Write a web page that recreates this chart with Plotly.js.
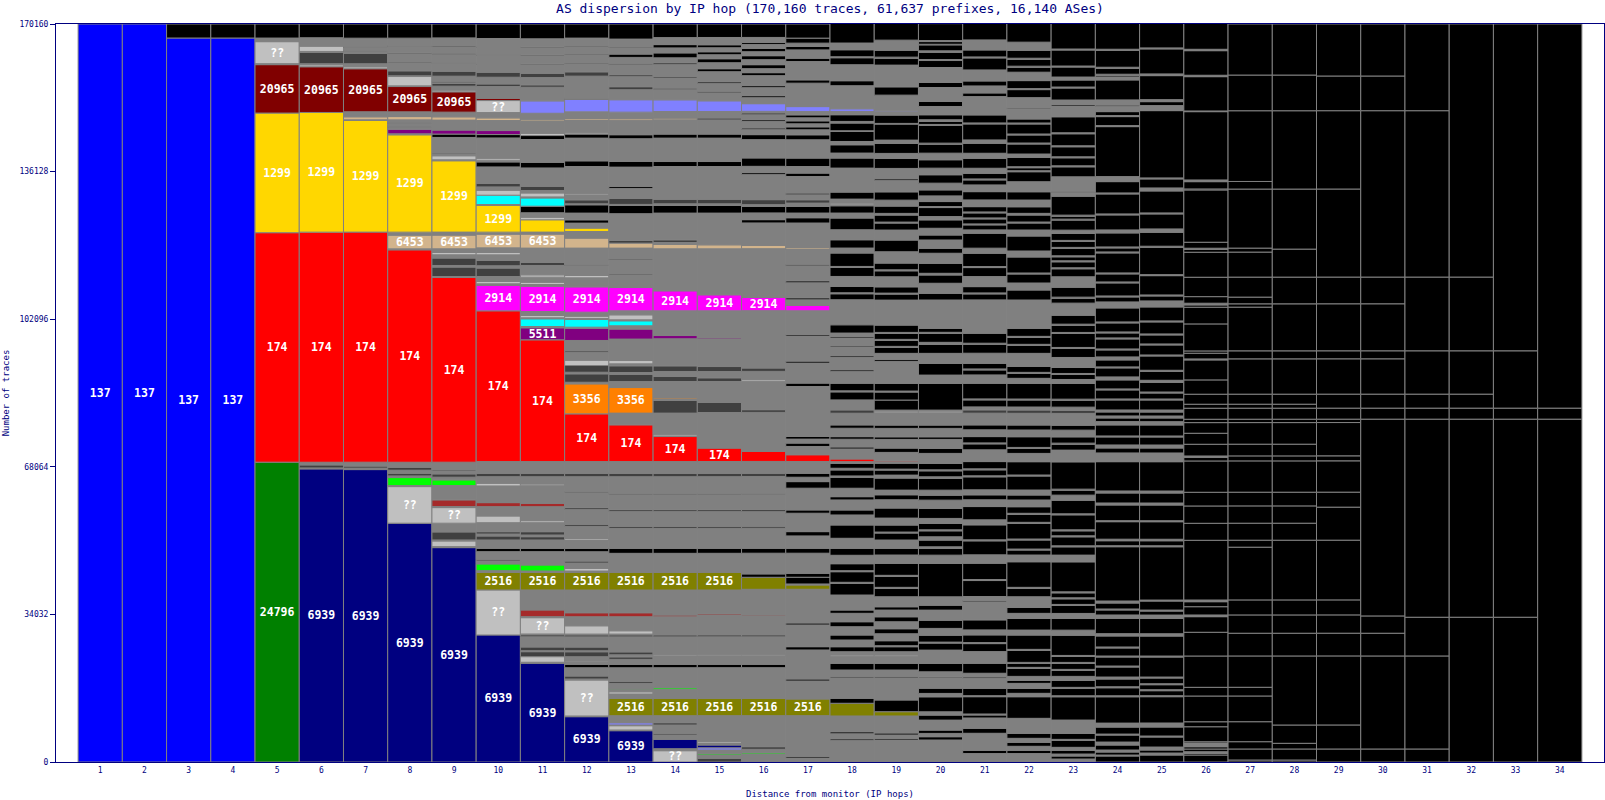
<!DOCTYPE html>
<html><head><meta charset="utf-8">
<script src="https://cdn.plot.ly/plotly-3.0.1.min.js"></script>
<style>html,body{margin:0;padding:0;background:#fff;}#chart{width:1605px;height:800px;}</style>
</head><body><div id="chart"></div>
<script>
// ---- data: per hop, segments bottom -> top: [AS key, traces, show label]
const hopLabels = ["1","2","3","4","5","6","7","8","9","10","11","12","13","14","15","16","17","18","19","20","21","22","23","24","25","26","27","28","29","30","31","32","33","34"];
const yTickValues = [0, 34032, 68064, 102096, 136128, 170160];
const totalTraces = 170160;

const hop1 = [["137",170160,1]];
const hop2 = [["137",170160,1]];
const hop3 = [["137",166930,1],["k",3230]];
const hop4 = [["137",166930,1],["k",3230]];
const hop5 = [["24796",69130,1],["174",52910,1],["1299",27590,1],["20965",11160,1],["g",230],["??",5070,1],["g",830],["k",3240]];
const hop6 = [["6939",67580,1],["g",230],["dg",690],["g",620],["174",53050,1],["1299",27590,1],["20965",10540,1],["??",460],["g",230],["dg",2610],["g",230],["??",1220],["g",1940],["k",3170]];
const hop7 = [["6939",67420,1],["g",350],["dg",460],["g",900],["174",53050,1],["1299",25740,1],["g",160],["6453",690],["g",1150],["20965",9920,1],["??",460],["g",690],["dg",2380],["g",460],["k",230],["g",690],["k",230],["g",1910],["k",3270]];
const hop8 = [["6939",55060,1],["??",8440,1],["g",230],["lime",1850],["g",390],["dg",620],["g",690],["dg",690],["g",1150],["174",48970,1],["g",230],["6453",3160,1],["g",690],["1299",22440,1],["g",230],["5511",1080],["g",460],["dg",230],["g",690],["dg",230],["g",530],["6453",760],["g",1080],["20965",5840,1],["g",160],["??",2150],["g",160],["dg",1150],["g",1780],["k",230],["g",1910],["k",230],["g",1450],["k",230],["g",1710],["k",3260]];
const hop9 = [["6939",49430,1],["g",230],["??",1310],["g",230],["dg",1850],["g",2010],["??",3600,1],["g",230],["brown",1550],["g",3300],["lime",1310],["g",620],["dg",760],["g",690],["k",230],["g",1780],["174",42580,1],["g",230],["dg",2170],["g",370],["dg",1710],["g",760],["??",530],["g",850],["6453",3160,1],["g",690],["1299",16450,1],["g",230],["??",920],["g",460],["dg",300],["g",3460],["k",780],["5511",920],["g",690],["??",160],["g",1450],["6453",760],["g",1080],["20965",4680,1],["??",390],["g",920],["dg",620],["g",140],["dg",390],["g",1150],["dg",1150],["g",1780],["k",230],["g",1910],["k",230],["g",1450],["k",230],["g",1850],["k",3200]];
const hop10 = [["6939",29290,1],["??",10380,1],["2516",4080,1],["g",370],["lime",1550],["g",690],["dg",390],["g",1750],["k",780],["g",1910],["dg",920],["g",460],["dg",530],["g",2080],["??",1550],["g",2150],["brown",920],["g",3850],["??",620],["g",1520],["dg",780],["g",2700],["174",34760,1],["2914",5840,1],["g",390],["??",530],["g",1150],["dg",1940],["g",530],["dg",1220],["g",1310],["??",530],["g",1080],["6453",3160,1],["g",460],["1299",6140,1],["g",230],["cyan",2150],["??",1150],["g",760],["dg",780],["g",3830],["k",1150],["g",390],["??",460],["g",4680],["k",780],["5511",920],["g",2310],["6453",620],["g",1220],["??",2770,1],["20965",530],["g",2700],["dg",600],["g",1550],["dg",1150],["g",1780],["k",230],["g",1850],["k",230],["g",1610],["k",230],["g",1850],["k",3340]];
const hop11 = [["6939",22770,1],["g",230],["??",1290],["dg",1150],["g",230],["dg",850],["g",2380],["k",390],["g",230],["??",3760,1],["g",230],["brown",1550],["g",4610],["2516",4080,1],["g",300],["lime",1380],["g",3070],["k",780],["g",1910],["dg",760],["g",390],["dg",760],["g",2080],["??",460],["g",3230],["brown",780],["g",4060],["??",390],["g",1680],["dg",780],["g",2710],["174",28070,1],["5511",2770,1],["g",300],["cyan",1780],["g",230],["??",530],["g",920],["2914",5840,1],["g",390],["??",530],["g",1150],["??",550],["g",2150],["dg",690],["g",3320],["6453",3230,1],["g",460],["1299",2840],["??",600],["g",1010],["k",1520],["cyan",1910],["g",230],["??",920],["g",550],["dg",990],["g",4220],["k",1310],["g",5240],["k",920],["??",530],["g",2700],["6453",390],["g",1520],["slate",2860],["g",3140],["dg",550],["g",1680],["dg",990],["g",1940],["k",230],["g",1850],["k",230],["g",1610],["k",230],["g",1850],["k",3420]];
const hop12 = [["6939",10450,1],["g",160],["??",8300,1],["g",230],["dg",690],["g",1910],["k",780],["g",530],["??",230],["g",990],["dg",1150],["g",230],["dg",850],["g",2380],["k",390],["g",230],["??",1910],["g",2080],["brown",920],["g",5240],["2516",4080,1],["g",300],["??",620],["g",1220],["dg",460],["g",2150],["k",780],["g",1910],["??",390],["g",2770],["dg",460],["g",3460],["k",350],["g",3460],["dg",350],["g",3370],["dg",780],["g",2710],["174",11000,1],["3356",6920,1],["g",370],["dg",1940],["g",370],["dg",1550],["??",1220],["g",1850],["dg",350],["g",2350],["5511",2770],["g",300],["cyan",1780],["g",230],["??",530],["g",920],["2914",5840,1],["g",2080],["??",550],["g",2310],["k",230],["g",3760],["6453",2310],["g",1520],["1299",780],["g",1150],["k",760],["g",1550],["k",1910],["g",230],["dg",920],["g",1150],["??",350],["g",6180],["k",1310],["g",5240],["k",920],["??",300],["g",2930],["6453",390],["g",1520],["slate",2860],["k",230],["g",5140],["dg",990],["g",1780],["k",230],["g",1850],["k",230],["g",1610],["k",230],["g",1850],["k",3250]];
const hop13 = [["6939",7220,1],["g",160],["??",990],["g",160],["slate",530],["g",1610],["2516",4010,1],["g",990],["??",530],["g",550],["lime",230],["g",1150],["dg",460],["g",3140],["k",780],["g",1150],["dg",580],["g",460],["dg",690],["g",3490],["k",390],["g",230],["??",760],["g",3230],["brown",920],["g",5240],["2516",4080,1],["g",4380],["k",1150],["g",4610],["dg",460],["g",3460],["k",350],["g",3460],["dg",350],["g",3830],["dg",780],["g",2710],["174",8470,1],["g",2700],["3356",5900,1],["g",1380],["dg",1710],["g",370],["dg",1550],["g",460],["??",760],["g",4940],["5511",2310],["g",760],["cyan",1150],["g",230],["??",1150],["g",920],["2914",5370,1],["g",2770],["dg",350],["g",3230],["k",230],["g",2510],["6453",1150],["dg",620],["g",6160],["k",1910],["g",230],["dg",1380],["g",2310],["k",460],["g",4450],["k",1310],["g",5240],["k",920],["g",3300],["6453",390],["g",1520],["slate",2860],["g",2310],["dg",690],["g",2310],["dg",460],["g",2310],["k",300],["g",1380],["k",760],["g",1380],["k",230],["g",1850],["k",3480]];
const hop14 = [["??",2610,1],["g",460],["6939",2170],["g",990],["dg",390],["g",1910],["dg",530],["g",1610],["2516",4010,1],["g",2080],["lime",370],["g",4610],["k",780],["g",1980],["??",320],["g",4060],["k",390],["g",4220],["brown",390],["g",5770],["2516",4080,1],["g",4380],["k",1150],["g",4610],["dg",460],["g",3460],["k",350],["g",3460],["dg",350],["g",3830],["dg",780],["g",2710],["174",5770,1],["??",390],["g",5010],["dg",2910],["g",390],["3356",300],["g",3690],["dg",1150],["g",1150],["dg",1310],["g",6230],["5511",760],["g",5700],["2914",4610,1],["g",9690],["6453",990],["g",460],["dg",620],["g",6160],["k",1750],["g",390],["dg",1080],["g",7520],["k",1150],["g",5400],["k",920],["g",3300],["6453",390],["g",1520],["slate",2700],["g",2310],["dg",390],["g",2310],["dg",390],["g",2770],["k",350],["g",1150],["k",1150],["g",1150],["k",760],["g",1610],["k",3140]];
const hop15 = [["dg",850],["g",760],["lime",300],["g",850],["slate",530],["6939",620],["g",460],["??",390],["g",5920],["2516",4010,1],["g",7060],["k",780],["g",1980],["??",320],["g",4060],["k",390],["g",4610],["brown",300],["g",5470],["2516",4080,1],["g",4380],["k",1150],["g",4610],["dg",460],["g",3460],["k",350],["g",3460],["dg",350],["g",3830],["dg",780],["g",2710],["174",3090,1],["g",8210],["dg",2310],["g",4840],["dg",850],["g",1450],["dg",1150],["g",6390],["5511",300],["g",6160],["2914",3690,1],["g",10610],["6453",920],["g",7310],["k",1750],["g",390],["dg",1080],["g",7520],["k",1150],["g",5400],["k",920],["g",3300],["k",390],["g",1520],["slate",2470],["g",1850],["k",350],["g",1850],["k",350],["g",2310],["k",690],["g",1380],["k",920],["g",920],["k",690],["g",920],["k",690],["g",1680],["k",3110]];
const hop16 = [["g",1850],["lime",300],["g",780],["dg",600],["g",7150],["2516",4010,1],["g",7060],["k",780],["g",1980],["??",320],["g",4060],["k",390],["g",4380],["brown",230],["g",5930],["2516",2770],["k",780],["g",4770],["k",1150],["g",4610],["dg",460],["g",3460],["k",350],["g",3460],["dg",350],["g",3830],["dg",780],["g",2710],["174",2310],["g",9000],["dg",620],["g",6530],["??",390],["g",1910],["dg",780],["g",13220],["2914",3070,1],["g",11230],["6453",760],["g",5170],["k",760],["g",1550],["k",1520],["g",390],["dg",1150],["g",5770],["k",460],["g",1450],["k",1940],["g",4220],["k",1150],["g",1150],["k",390],["g",1520],["k",390],["g",1150],["k",390],["g",370],["slate",1780],["g",1380],["k",460],["g",1850],["k",460],["g",2310],["k",690],["g",920],["k",920],["g",1150],["k",920],["g",920],["k",760],["g",920],["k",460],["g",1150],["k",3100]];
const hop17 = [["g",920],["k",350],["g",9410],["2516",3850,1],["g",4150],["k",460],["g",6690],["k",760],["g",5010],["k",460],["g",7770],["2516",990],["g",230],["k",1550],["k",920],["g",4620],["k",1150],["g",2840],["k",990],["g",4240],["k",760],["g",5010],["k",1520],["g",1010],["k",920],["g",2710],["174",1550],["g",1910],["k",780],["g",920],["k",600],["g",11530],["k",780],["g",4610],["k",460],["g",5770],["k",350],["g",5490],["2914",1220],["g",1310],["k",460],["g",3460],["k",460],["g",3460],["k",350],["g",3510],["6453",370],["g",5630],["k",1220],["g",1080],["k",1520],["g",780],["dg",760],["g",1150],["k",390],["g",3830],["k",780],["g",1520],["k",1940],["g",4220],["k",1150],["g",1150],["k",690],["g",690],["k",690],["g",690],["k",690],["g",760],["slate",1150],["g",5400],["k",760],["g",4220],["k",780],["g",1910],["k",780],["g",780],["k",1150],["k",3260]];
const hop18 = [["g",5010],["k",350],["g",1150],["k",460],["g",3640],["2516",2930],["k",1150],["g",4680],["dg",390],["g",1450],["k",1550],["g",1610],["??",300],["g",760],["k",1150],["g",1550],["k",1150],["g",1910],["k",1150],["g",1940],["k",760],["g",3460],["k",2700],["g",230],["k",2450],["g",230],["k",1610],["g",1940],["k",1610],["g",2310],["k",3070],["g",2310],["k",1150],["g",2310],["k",760],["g",1940],["k",2540],["g",300],["k",1380],["g",390],["k",1150],["g",370],["174",620],["g",2310],["k",460],["g",1780],["k",600],["g",1940],["k",760],["g",2700],["dg",760],["g",2310],["k",1850],["g",230],["k",1780],["g",2770],["k",350],["g",2770],["dg",480],["g",1850],["k",350],["g",1850],["k",350],["g",780],["k",1910],["dg",230],["g",5540],["k",1380],["g",230],["k",1450],["g",2310],["k",2080],["g",230],["k",3090],["g",1150],["k",1910],["g",2310],["k",2700],["g",1150],["k",1680],["g",230],["??",390],["g",920],["k",1610],["g",5540],["k",2310],["g",1150],["k",1910],["g",760],["k",2310],["g",160],["k",1780],["g",370],["k",1550],["g",760],["slate",620],["g",5310],["k",1150],["g",3690],["k",1610],["g",230],["k",1610],["g",1550],["k",4600]];
const hop19 = [["g",5070],["k",350],["g",810],["k",460],["g",3920],["2516",990],["k",2700],["g",5070],["dg",390],["g",1450],["k",1550],["g",1610],["??",300],["g",760],["k",1150],["g",230],["k",1150],["g",1610],["k",1150],["g",1610],["k",1150],["g",1550],["k",760],["g",2310],["k",1940],["g",230],["k",2540],["g",230],["k",2770],["g",1910],["k",1550],["g",1910],["k",1610],["g",230],["k",1610],["g",1610],["k",2310],["g",1910],["k",1150],["g",1080],["k",2770],["g",690],["k",1150],["g",230],["k",1380],["g",300],["174",230],["g",1940],["k",990],["g",2010],["k",600],["g",1940],["k",760],["g",2840],["??",390],["g",230],["k",2310],["k",1850],["g",230],["k",1780],["g",5070],["k",460],["g",1380],["k",1380],["g",230],["k",1380],["g",230],["k",1380],["g",230],["k",1680],["g",5770],["k",1380],["g",230],["k",1450],["g",2310],["k",1380],["g",230],["k",1550],["g",2610],["k",2700],["g",2310],["k",1610],["g",230],["k",1610],["g",390],["k",1680],["g",1380],["k",1910],["g",2700],["k",350],["g",2350],["k",2310],["g",1150],["k",2310],["g",760],["k",3690],["g",160],["k",1910],["g",760],["slate",230],["g",3620],["k",1910],["g",5010],["k",1610],["g",230],["k",1610],["g",2310],["k",3900]];
const hop20 = [["g",5070],["k",760],["g",760],["k",760],["g",2310],["k",1150],["g",760],["k",3460],["g",780],["k",1220],["g",2310],["dg",300],["g",1150],["k",1940],["g",3070],["k",1610],["g",230],["k",1610],["g",1550],["k",1910],["g",2310],["k",1150],["g",1910],["k",7700],["g",1910],["k",1550],["g",370],["k",1550],["g",760],["k",1380],["g",230],["k",1480],["g",1150],["k",2310],["g",1910],["k",1150],["g",1150],["k",2700],["g",370],["k",1380],["g",230],["k",1480],["g",2310],["k",1150],["g",2080],["k",600],["g",1940],["k",760],["g",2840],["??",390],["g",230],["k",6160],["g",1910],["k",2700],["g",2310],["k",2080],["g",460],["k",2080],["g",230],["k",920],["g",6530],["k",1550],["g",2310],["k",1910],["g",390],["k",2310],["g",2310],["k",1150],["g",1910],["k",1150],["g",1550],["k",1940],["g",760],["k",2080],["g",230],["k",1150],["g",1310],["k",1380],["g",1550],["k",1940],["g",1520],["k",1940],["g",1520],["k",2080],["g",230],["k",4080],["g",230],["k",690],["g",390],["k",1150],["g",1910],["k",1150],["g",3230],["k",1150],["g",3460],["k",1610],["g",230],["k",1680],["g",320],["k",1380],["g",140],["k",620],["g",230],["k",3900]];
const hop21 = [["g",1940],["k",760],["g",3920],["k",1150],["g",2380],["k",690],["g",230],["k",3990],["g",230],["k",1710],["g",2310],["dg",370],["g",780],["k",2310],["g",2680],["k",1850],["g",230],["k",1780],["g",1150],["k",2310],["g",4150],["k",350],["g",880],["k",3690],["g",230],["k",3780],["g",1910],["k",3230],["g",230],["k",3460],["g",1150],["k",3070],["g",1550],["k",1150],["g",1150],["k",3000],["g",230],["k",1380],["g",230],["k",1680],["g",2700],["k",1380],["g",230],["k",1450],["g",1550],["k",1150],["g",2700],["dg",760],["g",690],["k",1610],["g",230],["k",3620],["g",1910],["k",1150],["g",230],["k",1310],["g",2310],["k",2080],["g",230],["k",2310],["g",7680],["k",1380],["g",230],["k",1450],["g",2310],["k",2080],["g",230],["k",3090],["g",1150],["k",3460],["g",760],["k",1150],["g",230],["k",1150],["g",230],["k",1150],["g",230],["k",1220],["g",1550],["k",1910],["g",1550],["k",1150],["g",230],["k",1310],["g",1150],["k",2310],["g",1150],["k",2310],["g",760],["k",3690],["g",230],["k",1850],["g",4220],["k",850],["g",1610],["k",1150],["g",2540],["k",2770],["g",230],["k",1610],["g",2310],["k",3900]];
const hop22 = [["g",1940],["k",760],["g",920],["k",920],["g",920],["k",1150],["g",3460],["k",4980],["g",780],["k",1150],["g",1150],["k",690],["g",920],["k",1850],["g",230],["k",920],["g",230],["k",2770],["g",230],["k",3300],["g",1150],["k",2700],["g",1150],["k",1380],["g",2450],["k",1940],["g",230],["k",5900],["g",1550],["k",1150],["g",230],["k",2080],["g",230],["k",3620],["g",230],["k",1850],["g",230],["k",1520],["g",1550],["k",1150],["g",1150],["k",3230],["g",230],["k",3070],["g",1910],["k",1150],["g",230],["k",2470],["g",1550],["k",1150],["g",2700],["dg",760],["g",690],["k",1610],["g",230],["k",3620],["g",1150],["k",1150],["g",230],["k",1380],["g",3000],["k",1850],["g",230],["k",1610],["g",230],["k",1850],["g",6530],["k",2310],["g",1610],["k",2080],["g",230],["k",3690],["g",1380],["k",3460],["g",1380],["k",1610],["g",230],["k",1610],["g",390],["k",1520],["g",1550],["k",1910],["g",2310],["k",2310],["g",230],["k",690],["g",230],["k",2170],["g",760],["k",2310],["g",230],["k",1850],["g",230],["k",2310],["g",230],["k",920],["g",2310],["k",230],["g",2380],["k",1850],["g",230],["k",1850],["g",1940],["k",1150],["g",230],["k",1610],["g",230],["k",1850],["g",1850],["k",4300]];
const hop23 = [["g",690],["k",690],["g",460],["k",850],["g",690],["k",1610],["g",230],["k",1380],["g",3070],["k",5370],["g",230],["k",1710],["g",230],["k",1610],["g",920],["k",1380],["g",230],["k",1380],["g",230],["k",1380],["g",230],["k",4680],["g",1150],["k",2700],["g",1150],["k",1850],["g",230],["k",1290],["g",230],["k",1150],["g",230],["k",6920],["g",1550],["k",1910],["g",230],["k",2080],["g",230],["k",1150],["g",230],["k",3460],["g",230],["k",3160],["g",1150],["k",1150],["g",230],["k",6300],["g",2700],["k",1380],["g",230],["k",1450],["g",1550],["k",1150],["g",2700],["dg",760],["g",690],["k",1610],["g",230],["k",3620],["g",920],["k",1150],["g",230],["k",1380],["g",2310],["k",2080],["g",230],["k",3230],["g",230],["k",1680],["g",230],["k",2080],["g",2770],["k",1150],["g",230],["k",2310],["g",2380],["k",1850],["g",230],["k",1380],["g",230],["k",920],["g",230],["k",1710],["g",230],["k",1380],["g",230],["k",1610],["g",760],["k",2310],["g",230],["k",690],["g",230],["k",4380],["g",920],["k",230],["g",3300],["k",2310],["g",230],["k",1850],["g",230],["k",2310],["g",230],["k",2770],["g",230],["k",3690],["g",2470],["k",350],["g",1040],["k",2770],["g",230],["k",1610],["g",690],["k",2310],["g",230],["k",3690],["g",230],["k",6000]];
const hop24 = [["k",1380],["g",230],["k",690],["g",460],["k",1150],["g",690],["k",1610],["g",230],["k",1610],["g",920],["k",6070],["g",230],["k",1850],["g",230],["k",1780],["g",460],["k",2310],["g",230],["k",2080],["g",230],["k",1850],["g",230],["k",2540],["g",530],["k",3550],["g",760],["k",1150],["g",230],["k",1380],["g",460],["k",12520],["g",230],["k",1150],["g",350],["k",4040],["g",230],["k",3620],["g",460],["k",2310],["g",460],["k",6760],["g",2010],["k",1150],["g",690],["k",1850],["g",230],["k",2540],["g",760],["k",850],["g",460],["k",920],["g",460],["k",2310],["g",230],["k",2080],["g",230],["k",2080],["g",690],["k",2080],["g",230],["k",1610],["g",690],["k",1610],["g",230],["k",2310],["g",230],["k",1150],["g",230],["k",2080],["g",230],["k",3230],["g",1380],["k",1150],["g",230],["k",3000],["g",230],["k",1850],["g",230],["k",4610],["g",230],["k",920],["g",230],["k",3230],["g",690],["k",3460],["g",230],["k",4610],["g",230],["k",2610],["g",1150],["k",11530],["g",230],["k",2080],["g",230],["k",920],["g",1150],["k",350],["g",1200],["k",4610],["g",690],["k",390],["g",230],["k",1380],["g",230],["k",3920],["g",230],["k",6000]];
const hop25 = [["k",1610],["g",460],["k",690],["g",690],["k",2310],["g",230],["k",2080],["g",920],["k",6070],["g",230],["k",1150],["g",230],["k",1150],["g",230],["k",1310],["g",230],["k",4610],["g",230],["k",4610],["g",530],["k",3550],["g",760],["k",920],["g",230],["k",2080],["g",230],["k",12290],["g",230],["k",1150],["g",350],["k",4040],["g",230],["k",3620],["g",460],["k",2310],["g",460],["k",6760],["g",2010],["k",1150],["g",690],["k",1850],["g",230],["k",2540],["g",760],["k",850],["g",460],["k",920],["g",460],["k",2310],["g",230],["k",1380],["g",230],["k",2240],["g",460],["k",2080],["g",230],["k",3300],["g",230],["k",2310],["g",230],["k",2080],["g",230],["k",2770],["g",230],["k",3230],["g",1380],["k",1150],["g",230],["k",4450],["g",230],["k",6320],["g",230],["k",3230],["g",760],["k",3460],["g",230],["k",5070],["g",690],["k",2080],["g",230],["k",15520],["g",1150],["k",920],["g",460],["k",5540],["g",390],["k",5770],["g",230],["k",6000]];
const hop26 = [["k",1610],["k",390],["g",370],["k",620],["k",530],["g",850],["k",300],["k",3460],["k",1150],["k",5930],["k",2010],["k",7220],["k",5470],["k",3600],["g",390],["k",1910],["k",1150],["g",390],["k",13770],["k",3920],["k",3990],["k",3160],["k",7220],["k",850],["g",300],["k",2700],["k",2540],["k",2450],["k",780],["k",2540],["k",920],["k",2310],["k",3300],["k",4610],["g",230],["k",1310],["k",530],["k",6230],["k",3850],["k",530],["g",390],["k",1520],["k",4470],["k",5770],["k",690],["g",230],["k",1380],["k",12060],["k",230],["k",1680],["g",390],["k",15750],["g",160],["k",7910],["g",320],["k",5670],["g",320],["k",6000]];
const hop27 = [["k",460],["k",2540],["k",1680],["k",4610],["k",5930],["k",2010],["k",7220],["k",5240],["k",4220],["k",3460],["k",12160],["k",1610],["k",3920],["k",3990],["k",3160],["k",7220],["k",1150],["k",2700],["k",4980],["k",780],["k",2540],["k",920],["k",2310],["k",8140],["k",1850],["k",10080],["k",760],["k",1550],["k",4610],["k",5770],["k",920],["k",13610],["k",1750],["k",16310],["k",8230],["k",11770]];
const hop28 = [["k",460],["k",2540],["k",1310],["k",4220],["k",15920],["k",5240],["k",4220],["k",3460],["k",13770],["k",3920],["k",3990],["k",3160],["k",7220],["k",1150],["k",2700],["k",4980],["k",780],["k",2540],["k",920],["k",2310],["k",8140],["k",1850],["k",10840],["k",6160],["k",6460],["k",13840],["k",18060],["k",8230],["k",11770]];
const hop29 = [["k",3000],["k",5540],["k",15920],["k",5240],["k",4220],["k",3460],["k",13770],["k",7610],["k",3460],["k",7220],["k",1150],["k",7680],["k",780],["k",2540],["k",3230],["k",8140],["k",1850],["k",10840],["k",6160],["k",20300],["k",18060],["k",8000],["k",11990]];
const hop30 = [["k",3000],["k",21450],["k",5240],["k",3990],["k",45370],["k",2540],["k",3230],["k",8140],["k",1850],["k",10840],["k",6160],["k",38360],["k",8000],["k",11990]];
const hop31 = [["k",3000],["k",21450],["k",8930],["k",45670],["k",2540],["k",3230],["k",9990],["k",17000],["k",38360],["k",20000]];
const hop32 = [["k",33380],["k",45670],["k",2540],["k",3230],["k",9990],["k",17000],["k",58360]];
const hop33 = [["k",33380],["k",45670],["k",2540],["k",13220],["k",75360]];
const hop34 = [["k",79050],["k",2540],["k",88570]];

const hops = [hop1,hop2,hop3,hop4,hop5,hop6,hop7,hop8,hop9,hop10,hop11,hop12,hop13,hop14,hop15,hop16,hop17,hop18,hop19,hop20,hop21,hop22,hop23,hop24,hop25,hop26,hop27,hop28,hop29,hop30,hop31,hop32,hop33,hop34];

// ---- styles
const asColors = {
  "137":"#0000FF","24796":"#008000","6939":"#000080","174":"#FF0000","1299":"#FFD700",
  "20965":"#800000","??":"#C0C0C0","6453":"#D2B48C","2914":"#FF00FF","5511":"#800080",
  "3356":"#FF8000","2516":"#808000","cyan":"#00FFFF","lime":"#00FF00","brown":"#A52A2A",
  "slate":"#8080FF","dg":"#404040","g":"#808080","k":"#000000"
};
const NAVY = "#000080";
const MONO = "DejaVu Sans Mono, Liberation Mono, monospace";

const xs = [], bases = [], ys = [], cols = [], texts = [];
hops.forEach((segs, i) => {
  let cum = 0;
  segs.forEach(([key, n, lab]) => {
    xs.push(i + 1);
    bases.push(cum);
    ys.push(n);
    cols.push(asColors[key]);
    texts.push(lab ? key : "");
    cum += n;
  });
});

const trace = {
  type: "bar",
  x: xs, y: ys, base: bases,
  width: 1,
  marker: {color: cols, line: {color: "#808080", width: 1}},
  text: texts,
  textposition: "inside",
  insidetextanchor: "middle",
  textangle: 0,
  textfont: {family: MONO, size: 11.5, color: "#FFFFFF", weight: "bold"},
  hoverinfo: "skip"
};

const layout = {
  width: 1605, height: 800,
  margin: {l: 56, r: 1, t: 24, b: 38},
  paper_bgcolor: "#FFFFFF", plot_bgcolor: "#FFFFFF",
  barmode: "overlay",
  showlegend: false,
  uniformtext: {mode: "show", minsize: 11.5},
  title: {
    text: "AS dispersion by IP hop (170,160 traces, 61,637 prefixes, 16,140 ASes)",
    font: {family: MONO, size: 13, color: NAVY},
    x: 0.5, xref: "paper", xanchor: "center",
    y: 0.99, yref: "container", yanchor: "middle"
  },
  xaxis: {
    range: [0, hopLabels.length + 1],
    tickvals: hopLabels.map((_, i) => i + 1), ticktext: hopLabels,
    ticks: "", showgrid: false, zeroline: false,
    showline: true, linecolor: NAVY, linewidth: 1, mirror: true,
    tickfont: {family: MONO, size: 8, color: NAVY},
    title: {text: "Distance from monitor (IP hops)", font: {family: MONO, size: 9, color: NAVY}, standoff: 17}
  },
  yaxis: {
    range: [0, totalTraces],
    tickvals: yTickValues, ticktext: yTickValues.map(String),
    ticks: "outside", ticklen: 5, tickwidth: 1, tickcolor: NAVY,
    showgrid: false, zeroline: false,
    showline: true, linecolor: NAVY, linewidth: 1, mirror: true,
    tickfont: {family: MONO, size: 8, color: NAVY},
    title: {text: "Number of traces", font: {family: MONO, size: 9, color: NAVY}, standoff: 8}
  }
};

Plotly.newPlot("chart", [trace], layout, {displayModeBar: false, staticPlot: true});
</script>
</body></html>
